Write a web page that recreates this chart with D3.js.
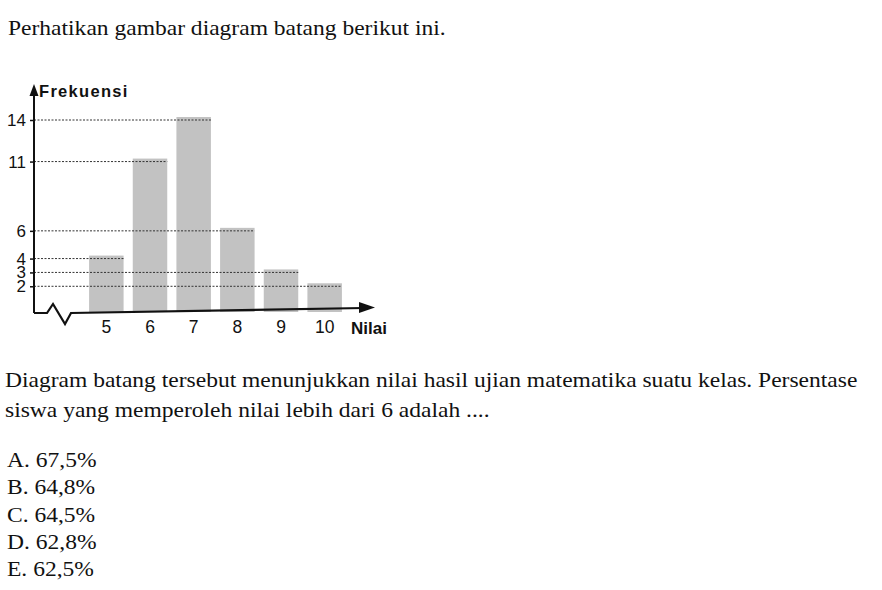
<!DOCTYPE html>
<html><head><meta charset="utf-8">
<script src="https://cdn.jsdelivr.net/npm/d3@7/dist/d3.min.js"></script>
<style>html,body{margin:0;padding:0;background:#fff;}</style>
</head><body>
<script>
const categories = ["5","6","7","8","9","10"];
const frequencies = [4,11,14,6,3,2];
const yTickValues = [2,3,4,6,11,14];
const title = "Perhatikan gambar diagram batang berikut ini.";
const paragraph = ["Diagram batang tersebut menunjukkan nilai hasil ujian matematika suatu kelas. Persentase",
                   "siswa yang memperoleh nilai lebih dari 6 adalah ...."];
const options = ["A. 67,5%","B. 64,8%","C. 64,5%","D. 62,8%","E. 62,5%"];

const W = 882, H = 590;
const svg = d3.select("body").append("svg").attr("width", W).attr("height", H);
const serif = "'Liberation Serif','Times New Roman',serif";
const sans = "'Liberation Sans',Arial,sans-serif";
const HSCALE = 1.12;

function serifText(xp, yp, t) {
  const el = svg.append("text").attr("x", xp).attr("y", yp).attr("font-family", serif)
    .attr("font-size", 21).attr("fill", "#111").text(t);
  const w = el.node().getComputedTextLength();
  el.attr("textLength", w * HSCALE).attr("lengthAdjust", "spacingAndGlyphs");
  return el;
}

serifText(8, 35, title);

const axisX = 34, baseY = 313;
const x = d3.scaleBand().domain(categories).range([84.5, 346.5]).paddingInner(0.21).paddingOuter(0.105);
const y = d3.scaleLinear().domain([0, 14]).range([baseY + 1, 120]);

const g = svg.append("g");
// bars
g.selectAll("rect.bar").data(categories).join("rect").attr("class","bar")
  .attr("x", d => x(d)).attr("width", x.bandwidth())
  .attr("y", (d,i) => y(frequencies[i]) - 3).attr("height", (d,i) => baseY - 1 - (y(frequencies[i]) - 3))
  .attr("fill", "#c2c2c2");

// dashed guide lines from axis to bar
g.selectAll("line.guide").data(categories).join("line").attr("class","guide")
  .attr("x1", axisX).attr("x2", d => x(d) + x.bandwidth())
  .attr("y1", (d,i) => y(frequencies[i])).attr("y2", (d,i) => y(frequencies[i]))
  .attr("stroke", "#333").attr("stroke-width", 1).attr("stroke-dasharray", "2,1.5");

// y axis
const yAxis = d3.axisLeft(y).tickValues(yTickValues).tickSize(4).tickFormat(d3.format("d"));
const ya = svg.append("g").attr("transform", `translate(${axisX},0)`).call(yAxis);
ya.select(".domain").remove();
ya.selectAll(".tick line").attr("stroke", "#111").attr("stroke-width", 1.5);
ya.selectAll(".tick text").attr("font-family", sans).attr("font-size", 17).attr("fill", "#111").attr("x", -8);
svg.append("line").attr("x1", axisX).attr("x2", axisX).attr("y1", baseY).attr("y2", 92)
  .attr("stroke", "#111").attr("stroke-width", 2);
svg.append("path").attr("d", `M${axisX-4.5},${96} L${axisX},${84} L${axisX+4.5},${96} Z`).attr("fill", "#111");
svg.append("text").attr("x", 39).attr("y", 97).attr("font-family", sans).attr("font-weight", "bold")
  .attr("font-size", 16.5).attr("letter-spacing", 1.3).attr("fill", "#111").text("Frekuensi");

// x axis with break
svg.append("path").attr("d", `M${axisX},${baseY} L47,${baseY} L53,${baseY-9} L65,${baseY+11} L71,${baseY} L364,${baseY-5}`)
  .attr("fill", "none").attr("stroke", "#111").attr("stroke-width", 2.2).attr("stroke-linejoin", "miter");
svg.append("path").attr("d", `M359,${baseY-11} L375,${baseY-5.5} L359,${baseY} Z`).attr("fill", "#111");

const xa = svg.append("g").attr("transform", `translate(0,${baseY})`).call(d3.axisBottom(x).tickSize(0));
xa.select(".domain").remove();
xa.selectAll(".tick text").attr("font-family", sans).attr("font-size", 17.5).attr("fill", "#111").attr("dy", 0).attr("y", 20);
svg.append("text").attr("x", 351).attr("y", 334).attr("font-family", sans).attr("font-weight", "bold")
  .attr("font-size", 17).attr("fill", "#111").text("Nilai");

// paragraph
paragraph.forEach((t, i) => serifText(5, 387 + i * 30, t));
options.forEach((t, i) => serifText(7, 467 + i * 27.3, t));
</script>
</body></html>
